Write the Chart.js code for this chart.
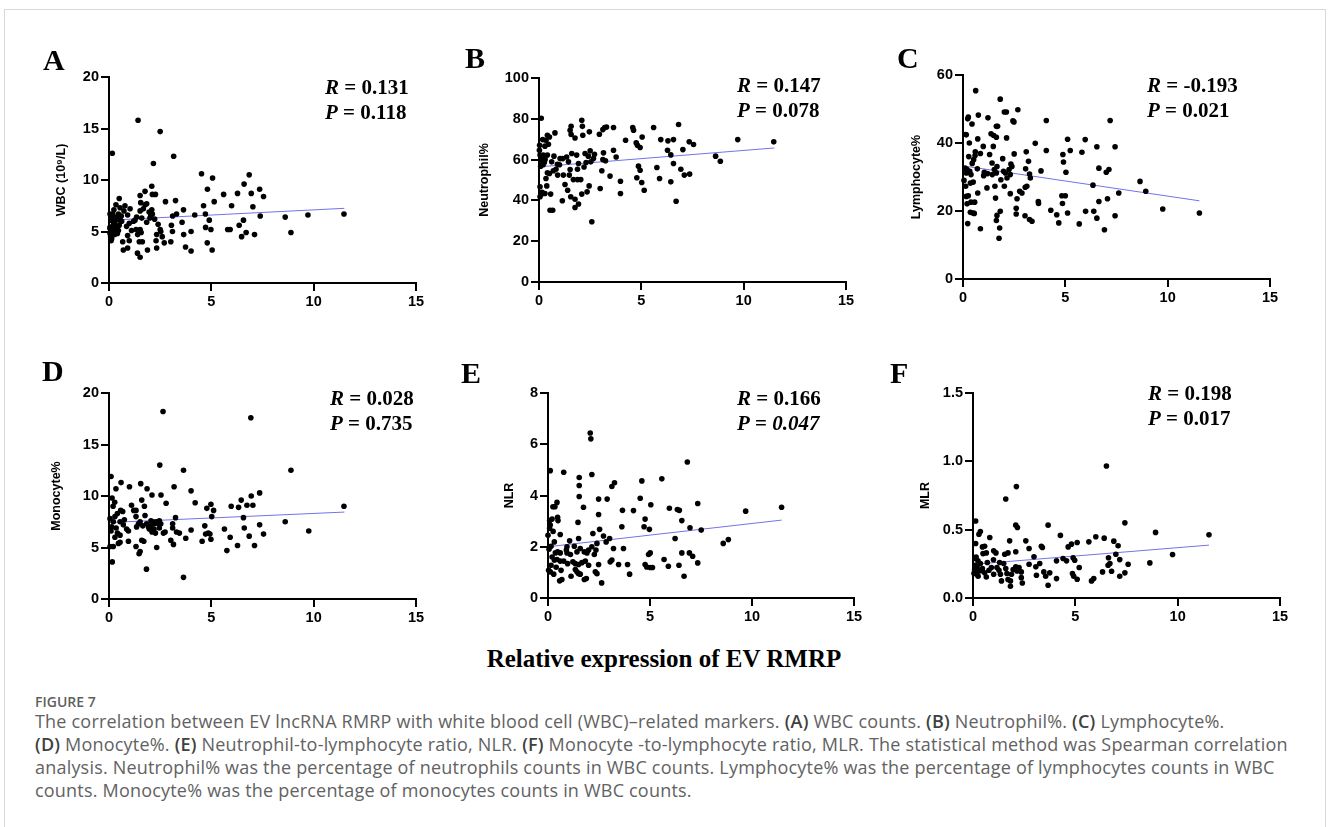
<!DOCTYPE html>
<html>
<head>
<meta charset="utf-8">
<script src="https://cdn.jsdelivr.net/npm/chart.js@4.4.1/dist/chart.umd.min.js"></script>
<style>
  html, body { margin: 0; padding: 0; background: #fff; }
  #fig { position: relative; width: 1328px; height: 827px; overflow: hidden; }
  #frame { position: absolute; left: 4px; top: 9px; width: 1322px; height: 840px; border: 1px solid #d8d8d8; box-sizing: border-box; }
  .letter { position: absolute; font: bold 30px 'Liberation Serif', 'Times New Roman', serif; line-height: 30px; color: #000; }
  .stat { position: absolute; font: bold 21px 'Liberation Serif', 'Times New Roman', serif; line-height: 21px; color: #000; white-space: nowrap; }
  #xtitle { position: absolute; left: 0; width: 1328px; top: 646px; text-align: center; font: bold 25px 'Liberation Serif', 'Times New Roman', serif; line-height: 25px; }
  #figno { position: absolute; left: 35px; top: 694px; font: 600 14px 'Open Sans', sans-serif; line-height: 16px; color: #5f5f5f; }
  #caption { position: absolute; left: 35px; top: 710px; font: 18px 'Open Sans', sans-serif; letter-spacing: 0.2px; line-height: 23px; color: #626262; white-space: nowrap; }
  #caption b { color: #404040; font-weight: 600; }
</style>
</head>
<body>
<div id="fig">
  <div id="frame"></div>
  <div id="xtitle">Relative expression of EV RMRP</div>
  <div id="figno">FIGURE 7</div>
  <div id="caption">
    The correlation between EV lncRNA RMRP with white blood cell (WBC)–related markers. <b>(A)</b> WBC counts. <b>(B)</b> Neutrophil%. <b>(C)</b> Lymphocyte%.<br>
    <b>(D)</b> Monocyte%. <b>(E)</b> Neutrophil-to-lymphocyte ratio, NLR. <b>(F)</b> Monocyte -to-lymphocyte ratio, MLR. The statistical method was Spearman correlation<br>
    analysis. Neutrophil% was the percentage of neutrophils counts in WBC counts. Lymphocyte% was the percentage of lymphocytes counts in WBC<br>
    counts. Monocyte% was the percentage of monocytes counts in WBC counts.
  </div>
</div>
<script>
// Relative expression of EV RMRP (x) vs marker (y)
const wbcPoints = [[0.1,6.1],[0.16,12.6],[0.05,5.4],[0.08,4.5],[0.1,4.1],[1.42,15.8],[2.5,14.7],[3.16,12.3],[2.17,11.6],[2.09,9.4],[4.52,10.6],[5.06,10.2],[6.85,10.5],[6.6,9.6],[7.36,9.1],[4.81,9.1],[5.6,8.6],[6.28,8.7],[6.95,8.7],[7.55,8.4],[4.62,7.5],[5.14,7.9],[5.99,7.5],[7.03,7.4],[8.61,6.4],[9.72,6.6],[11.48,6.7],[8.89,4.9],[4.71,6.7],[4.9,6.1],[7.39,6.5],[4.72,5.4],[4.98,5.2],[5.8,5.2],[5.92,5.2],[6.36,5.6],[6.57,6.1],[6.48,4.5],[6.7,4.9],[7.11,4.7],[4.8,3.9],[5.04,3.2],[4.01,3.1],[3.74,3.5],[3.65,4.7],[4.01,5.0],[3.57,5.9],[3.64,7.1],[4.19,6.6],[3.25,8.0],[2.76,7.9],[3.1,5.0],[3.05,5.6],[3.11,6.5],[3.3,6.7],[3.02,4.0],[2.7,3.9],[2.53,5.0],[2.6,4.5],[2.33,4.7],[2.3,4.1],[2.33,3.4],[2.5,5.2],[2.4,5.7],[2.23,6.2],[2.12,6.7],[2.09,7.1],[2.27,8.6],[2.12,8.6],[1.88,3.2],[1.52,2.5],[1.39,2.9],[1.48,4.0],[1.63,4.0],[1.4,4.7],[1.57,4.9],[1.52,5.2],[1.32,5.2],[1.84,5.9],[1.27,6.1],[1.35,6.4],[1.52,7.0],[1.68,7.2],[1.76,7.6],[1.55,7.8],[1.52,8.5],[1.76,8.9],[1.84,7.7],[1.96,6.9],[2.04,6.6],[1.03,7.2],[0.91,6.6],[0.86,5.5],[0.99,5.8],[0.91,4.6],[0.99,4.1],[0.91,3.4],[0.7,3.2],[0.67,4.0],[0.78,7.5],[0.73,7.0],[0.5,8.2],[0.54,7.3],[0.46,6.7],[0.54,6.1],[0.5,5.6],[0.46,5.1],[0.41,4.8],[0.34,7.6],[0.24,7.1],[0.18,6.7],[0.24,5.8],[0.29,5.2],[0.24,4.9],[0.18,5.0],[0.13,4.3],[0.05,6.7],[0.05,5.3],[0.05,4.8],[0.62,6.0],[0.38,6.4],[0.3,6.0],[0.2,5.6],[0.35,5.5],[0.15,6.3],[0.6,6.5],[0.28,4.7],[1.2,6.0],[1.6,6.3],[2.0,6.3],[1.1,5.1]];
const neutPoints = [[0.11,80.3],[2.58,29.5],[2.09,79.3],[2.12,76.3],[6.82,77.2],[4.58,75.7],[4.62,74.4],[5.6,75.7],[3.64,75.7],[3.21,75.7],[3.3,76],[3.12,74.7],[1.57,76.3],[1.52,74.4],[1.57,72.3],[1.76,70.6],[2.14,71.9],[2.46,73.6],[2.95,72.4],[4.23,69.5],[4.75,68.2],[4.81,67],[4.94,65.9],[5.04,71.1],[5.95,69.8],[6.3,69.2],[6.57,69.8],[7.34,68.7],[7.55,67.4],[7.03,64.9],[6.28,64.6],[6.44,62.3],[6.57,58.1],[6.93,55.3],[5.76,56.1],[4.86,56.8],[4.94,54.8],[4.78,51.1],[5.02,48.8],[5.14,45],[5.89,50.7],[6.44,49.1],[7.1,52.4],[7.36,52.9],[6.7,39.6],[8.63,61.7],[8.86,59.2],[9.71,69.8],[11.47,68.7],[3.98,49.4],[3.98,43.4],[3.64,64.6],[3.77,61.3],[3.47,51.9],[2.99,45.8],[3.07,54.5],[3.12,60],[3.15,63.3],[3.25,59.4],[2.71,62.6],[2.66,60.5],[2.5,64.3],[2.53,58.9],[2.41,61.7],[2.3,58.6],[2.25,63],[2.2,56.4],[2.45,47.1],[2.35,44.2],[2.09,43.1],[2.04,50.2],[1.88,50.2],[1.68,50.2],[1.88,55.3],[1.84,62.2],[1.93,58.1],[1.76,40.6],[1.93,38.2],[1.76,36.5],[1.55,41.8],[1.4,45],[1.27,47.8],[1.48,52.4],[1.52,55.1],[1.44,58.9],[1.35,61.3],[1.19,52.4],[1.14,39.8],[1.16,60.5],[1.03,60.5],[0.9,57.7],[0.83,55.3],[0.91,52.4],[0.7,54.5],[0.62,58.9],[0.67,35.2],[0.54,35.2],[0.57,43.1],[0.78,73.1],[0.51,71.1],[0.46,67.5],[0.41,71.9],[0.34,69.5],[0.29,66.6],[0.21,62.2],[0.26,58.6],[0.41,53.5],[0.34,50.7],[0.38,47.1],[0.29,43.4],[0.13,43.1],[0.05,41.8],[0.05,46.7],[0.02,64.6],[0.05,62.2],[0.13,58.9],[0.08,56.8],[0.18,69.8],[0.41,62.2],[0.51,53.2],[0.73,61.7],[0.1,60.5],[0.2,57.5],[0.03,67],[0.15,44],[0.3,60],[1.0,57.5],[1.6,63]];
const lymphPoints = [[0.62,55.4],[1.82,52.9],[2.02,49.1],[2.12,49.1],[2.68,49.8],[0.75,48.2],[0.26,47.6],[0.23,47.1],[1.22,47.4],[2.44,46.5],[2.49,46.2],[4.07,46.6],[7.19,46.6],[0.44,45.6],[1.63,44.9],[1.69,44.9],[0.16,42.4],[1.37,42.7],[1.5,42.2],[1.63,41.7],[2.13,41.5],[0.72,41.2],[0.31,40],[3.53,39.9],[5.11,41.1],[5.97,41],[6.54,38.9],[7.43,38.9],[5.24,37.8],[5.81,37.3],[4.07,37.8],[4.88,36.6],[4.91,34.4],[5.03,31.4],[3.81,31.8],[3.09,37.4],[3.2,34.6],[3.25,30.9],[3.29,29.7],[3.12,27.3],[3.04,27],[3.03,18.6],[3.25,17.5],[3.37,17],[3.68,22.8],[3.69,22.2],[4.29,20.2],[4.58,18.9],[4.68,16.5],[4.83,24.5],[4.86,22.2],[5.0,24.5],[5.11,19.4],[5.68,16.2],[5.99,19.9],[6.35,27.6],[6.39,19.9],[6.54,17.9],[6.64,32.6],[6.64,22.8],[6.91,14.5],[7.0,31.4],[7.13,32.2],[7.06,23.6],[7.43,18.6],[7.61,25.3],[8.65,28.7],[8.93,25.8],[9.76,20.6],[11.55,19.4],[1.76,12],[1.79,15],[0.85,14.8],[0.23,16.3],[1.66,18.7],[1.63,17.2],[1.82,19.9],[2.6,19.1],[2.6,20.8],[0.36,19.6],[0.49,19.4],[0.55,19.3],[0.2,22.1],[0.26,24.5],[0.39,22.6],[0.57,22.6],[0.36,28.2],[0.39,30.7],[0.33,31.7],[0.16,31.2],[0.2,32.2],[0.1,32.6],[0.13,27.3],[0.16,24.3],[0.13,42.5],[0.52,35.1],[0.59,36.3],[0.6,37.4],[0.7,32.4],[0.72,25.3],[0.85,36.9],[0.99,39],[1.01,30.4],[1.04,31.4],[1.17,26.8],[1.3,36.6],[1.42,34.1],[1.43,30.7],[1.48,39],[1.53,32.2],[1.56,27.3],[1.63,31.2],[1.66,33.1],[1.59,23.8],[1.85,29.2],[1.94,35.4],[1.98,31.7],[2.02,27.3],[2.07,31.2],[2.15,29.7],[2.25,32.2],[2.31,30.7],[2.31,25.1],[2.34,33.8],[2.39,33.1],[2.5,36.8],[2.64,23.6],[2.77,25.8],[2.88,25.3],[3.06,32.4],[0.45,34],[0.05,29],[0.28,36],[0.5,28.5],[1.2,31]];
const monoPoints = [[2.64,18.2],[6.93,17.6],[2.48,13.0],[3.64,12.5],[8.89,12.5],[0.1,11.9],[0.59,11.3],[1.55,11.2],[1.0,10.9],[0.34,10.7],[3.18,10.9],[1.86,10.7],[7.36,10.3],[4.01,10.5],[2.54,10.1],[2.1,10.1],[6.95,10.0],[0.15,9.8],[0.28,9.4],[6.46,9.6],[4.98,9.2],[6.74,9.1],[7.03,9.1],[4.21,9.35],[2.79,9.3],[4.78,8.8],[5.97,9.0],[6.33,8.9],[11.48,9.0],[1.6,9.6],[1.21,8.6],[1.32,8.6],[1.73,9.0],[5.11,8.6],[5.02,8.0],[6.57,7.9],[3.25,7.9],[8.61,7.5],[7.36,7.2],[4.68,7.1],[6.61,6.9],[5.64,6.8],[4.01,6.7],[3.11,6.9],[9.76,6.6],[7.55,6.3],[6.85,6.1],[5.92,6.0],[4.72,6.3],[4.85,6.4],[4.93,6.3],[3.75,5.9],[4.98,5.8],[4.55,5.6],[3.02,5.7],[3.15,5.3],[2.66,6.4],[2.33,5.0],[2.27,6.4],[2.1,6.5],[5.76,4.7],[6.28,5.2],[7.11,5.2],[3.64,2.1],[1.83,2.9],[0.16,3.6],[0.05,5.1],[0.21,5.1],[0.46,5.4],[0.54,5.5],[0.95,5.6],[1.32,5.1],[1.47,4.4],[1.52,4.6],[1.6,5.7],[0.29,6.0],[0.41,6.4],[0.54,6.2],[0.13,7.0],[0.21,7.5],[0.05,7.8],[0.29,8.0],[0.41,8.3],[0.57,8.6],[0.67,8.5],[0.54,7.5],[0.75,7.7],[0.86,6.8],[0.95,6.6],[1.1,9.1],[1.32,8.0],[1.44,7.3],[1.35,7.0],[1.52,7.5],[1.65,7.1],[1.76,8.1],[1.84,7.3],[1.93,7.0],[2.04,7.1],[2.14,7.5],[2.2,7.3],[2.3,7.5],[2.41,7.3],[2.46,7.6],[2.53,7.3],[1.97,6.8],[2.2,6.8],[2.46,6.9],[3.11,7.3],[3.3,6.5],[3.44,6.4],[2.74,6.5],[0.1,6.6],[0.35,6.9],[0.7,7.2],[0.2,9.0],[1.7,5.6],[2.05,7.6]];
const nlrPoints = [[2.07,6.44],[2.1,6.21],[6.83,5.31],[0.11,4.97],[0.77,4.91],[2.15,4.82],[1.53,4.7],[5.58,4.65],[4.6,4.57],[3.26,4.5],[3.13,4.35],[1.53,4.39],[1.53,3.96],[2.48,3.86],[2.9,3.86],[4.52,3.89],[0.44,3.73],[0.24,3.56],[0.34,3.56],[1.74,3.54],[5.04,3.64],[7.34,3.69],[5.95,3.5],[6.34,3.45],[6.44,3.42],[11.45,3.54],[9.69,3.39],[3.65,3.42],[4.19,3.41],[2.48,3.26],[0.08,3.02],[0.47,3.15],[0.49,3.02],[0.2,3.08],[4.76,3.08],[6.56,3.02],[1.47,2.95],[0.11,2.85],[0.08,2.72],[3.62,2.78],[4.71,2.78],[4.97,2.68],[6.96,2.74],[7.51,2.65],[2.53,2.68],[0.6,2.48],[2.2,2.52],[2.72,2.42],[0.0,2.45],[2.85,2.19],[3.02,2.32],[2.4,2.13],[1.5,2.32],[1.06,2.23],[0.93,2.0],[6.23,2.32],[8.84,2.28],[8.59,2.13],[0.31,2.19],[0.15,2.02],[0.36,1.76],[0.47,1.8],[0.6,1.76],[0.9,1.87],[0.93,1.76],[1.29,2.02],[1.42,1.8],[1.58,1.93],[1.78,1.8],[1.91,1.76],[1.99,1.87],[2.15,2.0],[2.27,1.7],[2.35,1.87],[3.21,1.93],[3.7,1.93],[4.93,1.7],[5.01,1.76],[6.56,1.76],[6.93,1.76],[7.09,1.63],[5.69,1.5],[3.13,1.48],[3.05,1.41],[3.9,1.31],[3.46,1.31],[2.48,1.31],[1.99,1.28],[1.83,1.44],[1.66,1.38],[1.5,1.31],[1.34,1.34],[1.22,1.41],[0.96,1.34],[0.77,1.44],[0.6,1.44],[0.44,1.5],[0.31,1.48],[0.15,1.28],[4.76,1.31],[4.84,1.21],[5.01,1.19],[5.12,1.19],[5.9,1.24],[6.42,1.28],[7.34,1.37],[2.32,1.02],[2.4,0.95],[1.34,1.11],[1.42,1.02],[1.5,0.95],[1.58,0.93],[1.13,0.85],[0.64,1.08],[0.28,0.93],[0.11,1.02],[0.03,1.08],[4.0,0.93],[6.67,0.85],[1.78,0.72],[1.88,0.76],[0.57,0.67],[0.68,0.72],[2.63,0.59],[0.05,1.9],[0.2,1.6],[0.4,1.2],[1.1,1.7],[0.25,2.6]];
const mlrPoints = [[6.52,0.966],[2.12,0.815],[1.6,0.724],[7.42,0.55],[0.13,0.563],[3.67,0.533],[2.09,0.533],[2.17,0.516],[8.92,0.48],[11.53,0.462],[0.36,0.487],[0.29,0.467],[4.27,0.458],[6.0,0.448],[6.41,0.438],[0.82,0.443],[5.66,0.411],[5.09,0.406],[4.81,0.394],[4.65,0.374],[6.88,0.416],[7.09,0.382],[1.79,0.418],[2.58,0.418],[0.13,0.399],[0.46,0.374],[0.57,0.379],[2.74,0.362],[3.34,0.379],[3.39,0.369],[1.01,0.345],[1.12,0.33],[0.49,0.325],[0.65,0.33],[1.71,0.33],[1.55,0.32],[2.09,0.338],[2.98,0.301],[4.4,0.289],[4.89,0.294],[4.97,0.276],[4.57,0.272],[6.62,0.294],[6.98,0.32],[9.75,0.318],[8.64,0.257],[7.58,0.247],[0.13,0.289],[0.24,0.272],[0.36,0.252],[0.2,0.228],[0.08,0.208],[0.13,0.191],[0.2,0.174],[0.33,0.203],[0.46,0.215],[0.57,0.184],[0.65,0.154],[0.78,0.203],[0.9,0.223],[1.01,0.174],[1.17,0.223],[1.27,0.203],[1.34,0.174],[1.39,0.125],[1.5,0.252],[1.6,0.215],[1.66,0.179],[1.71,0.135],[1.83,0.125],[1.83,0.086],[1.88,0.174],[1.96,0.208],[2.09,0.228],[2.15,0.198],[2.25,0.223],[2.36,0.191],[2.36,0.149],[2.41,0.11],[2.74,0.247],[3.07,0.228],[3.1,0.166],[3.26,0.252],[3.46,0.191],[3.55,0.159],[3.67,0.093],[3.75,0.184],[4.08,0.142],[4.08,0.272],[4.86,0.179],[4.92,0.159],[5.09,0.137],[5.19,0.223],[5.79,0.125],[5.9,0.142],[6.33,0.191],[6.6,0.24],[6.77,0.196],[7.17,0.281],[7.42,0.184],[7.17,0.159],[6.69,0.252],[0.05,0.18],[0.1,0.24],[0.25,0.16],[0.4,0.2],[0.15,0.3],[0.7,0.26],[1.0,0.28],[1.3,0.26]];

// regression line end points as drawn in the figure
const wbcFit = [[0.05, 6.1], [11.5, 7.25]];
const neutFit = [[0.05, 56.5], [11.5, 65.7]];
const lymphFit = [[0.2, 33.1], [11.55, 23.0]];
const monoFit = [[0.05, 7.43], [11.5, 8.44]];
const nlrFit = [[0.0, 2.0], [11.45, 3.04]];
const mlrFit = [[0.08, 0.247], [11.53, 0.387]];

const xTicks = [0, 5, 10, 15];

const panels = [
    { letter: 'A', title: 'WBC (10⁹/L)', pts: wbcPoints, fit: wbcFit, yMax: 20, yStep: 5, area: [109, 77, 416, 283], titleX: 62, letterPos: [43, 45], stat: [325, 77], R: '0.131', P: '0.118' },
    { letter: 'B', title: 'Neutrophil%', pts: neutPoints, fit: neutFit, yMax: 100, yStep: 20, area: [539, 78, 846, 282], titleX: 485, letterPos: [465, 43], stat: [737, 75], R: '0.147', P: '0.078' },
    { letter: 'C', title: 'Lymphocyte%', pts: lymphPoints, fit: lymphFit, yMax: 60, yStep: 20, area: [963, 75, 1270, 279], titleX: 917, letterPos: [897, 43], stat: [1147, 75], R: '-0.193', P: '0.021' },
    { letter: 'D', title: 'Monocyte%', pts: monoPoints, fit: monoFit, yMax: 20, yStep: 5, area: [109, 393, 416, 599], titleX: 57, letterPos: [42, 356], stat: [330, 388], R: '0.028', P: '0.735' },
    { letter: 'E', title: 'NLR', pts: nlrPoints, fit: nlrFit, yMax: 8, yStep: 2, area: [548, 393, 854, 598], titleX: 510, letterPos: [461, 358], stat: [737, 388], R: '0.166', P: '<i>0.047</i>' },
    { letter: 'F', title: 'MLR', pts: mlrPoints, fit: mlrFit, yMax: 1.5, yStep: 0.5, area: [973, 393, 1280, 598], titleX: 926, letterPos: [890, 358], stat: [1148, 383], R: '0.198', P: '0.017', dec: 1 }
];

const tickFont = { family: "'Liberation Sans', Arial, sans-serif", weight: 'bold', size: 14.5 };
const titleFont = { family: "'Liberation Sans', Arial, sans-serif", weight: 'bold', size: 12.5 };
const fig = document.getElementById('fig');

function addText(cls, x, y, html) {
    const d = document.createElement('div');
    d.className = cls;
    d.style.left = x + 'px';
    d.style.top = y + 'px';
    d.innerHTML = html;
    fig.appendChild(d);
}

function makePanel(p) {
    const [l, t, r, b] = p.area;
    const padTop = 12, padRight = 25, axisH = 34;
    const left = p.titleX - 8;
    const axisW = l - left;

    const wrap = document.createElement('div');
    wrap.style.cssText = `position:absolute;left:${left}px;top:${t - padTop}px;width:${r + padRight - left}px;height:${b - t + padTop + axisH}px;`;
    const canvas = document.createElement('canvas');
    wrap.appendChild(canvas);
    fig.appendChild(wrap);

    const axisGrid = { drawOnChartArea: false, drawTicks: true, tickLength: 8, color: '#000', lineWidth: 2 };
    const axisBorder = { display: true, color: '#000', width: 2 };

    new Chart(canvas, {
        type: 'scatter',
        data: {
            datasets: [{
                data: p.pts.map(([x, y]) => ({ x, y })),
                pointRadius: 2.8,
                pointBackgroundColor: '#000',
                pointBorderWidth: 0,
                clip: false
            }, {
                data: p.fit.map(([x, y]) => ({ x, y })),
                showLine: true,
                borderColor: '#7373e8',
                borderWidth: 1,
                pointRadius: 0,
                clip: false
            }]
        },
        options: {
            responsive: true,
            maintainAspectRatio: false,
            animation: false,
            layout: { padding: { top: padTop, right: padRight, left: 0, bottom: 0 } },
            plugins: { legend: { display: false }, tooltip: { enabled: false } },
            scales: {
                x: {
                    type: 'linear', min: 0, max: 15,
                    afterBuildTicks: s => { s.ticks = xTicks.map(v => ({ value: v })); },
                    afterFit: s => { s.height = axisH; },
                    grid: axisGrid, border: axisBorder,
                    ticks: { color: '#000', font: tickFont, padding: 2, maxRotation: 0 }
                },
                y: {
                    type: 'linear', min: 0, max: p.yMax,
                    afterFit: s => { s.width = axisW; },
                    grid: axisGrid, border: axisBorder,
                    ticks: {
                        stepSize: p.yStep, color: '#000', font: tickFont, padding: 2,
                        callback: v => p.dec ? v.toFixed(p.dec) : v
                    },
                    title: { display: true, text: p.title, color: '#000', font: titleFont, padding: 0 }
                }
            }
        }
    });

    addText('letter', p.letterPos[0], p.letterPos[1], p.letter);
    addText('stat', p.stat[0], p.stat[1], `<i>R</i> = ${p.R}`);
    addText('stat', p.stat[0], p.stat[1] + 25, `<i>P</i> = ${p.P}`);
}

panels.forEach(makePanel);
</script>
</body>
</html>
